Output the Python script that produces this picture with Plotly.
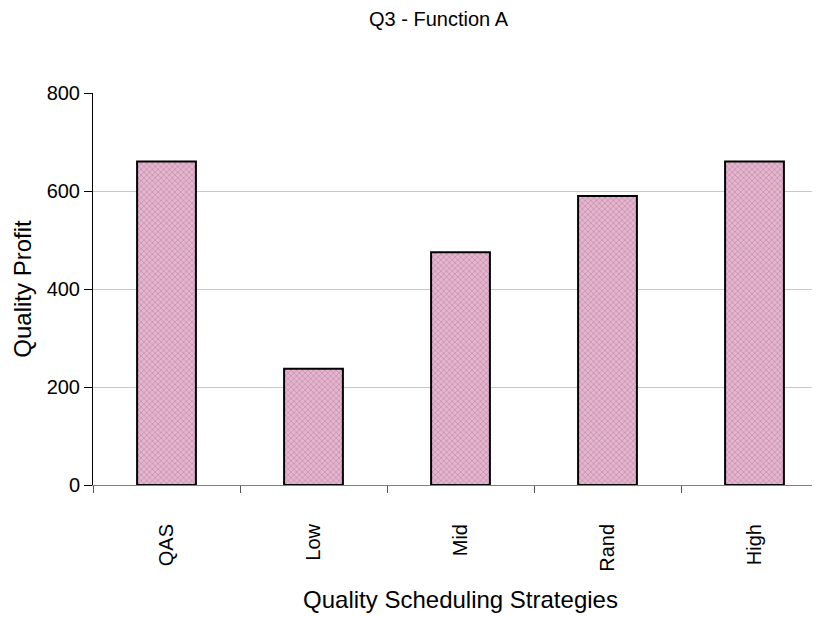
import plotly.graph_objects as go

categories = ["QAS", "Low", "Mid", "Rand", "High"]
profit = [660, 237, 475, 590, 660]
y_ticks = [0, 200, 400, 600, 800]

FONT = "Liberation Sans, Arial, sans-serif"

fig = go.Figure()
fig.add_trace(go.Bar(
    x=categories,
    y=profit,
    width=0.4,
    marker=dict(
        color="#dcaec7",
        line=dict(color="#000000", width=2),
        pattern=dict(shape="x", size=4, solidity=0.2,
                     fgcolor="#c4609a", bgcolor="#e0b8cd", fillmode="replace"),
    ),
    showlegend=False,
))

fig.update_layout(
    width=820, height=617,
    margin=dict(l=85, r=0, t=85, b=140),
    paper_bgcolor="white", plot_bgcolor="white",
    font=dict(family=FONT, color="#000000"),
    title=dict(text="Q3 - Function A", x=0.525, xanchor="center", y=0.993, yanchor="top",
               pad=dict(t=0, b=0),
               font=dict(size=20, family=FONT, color="#000000")),
    bargap=0.6,
)

fig.update_xaxes(
    type="category",
    tickson="boundaries",
    ticks="outside", ticklen=7, tickcolor="#555555", tickwidth=1,
    showline=True, linecolor="#808080", linewidth=1,
    showgrid=False,
    tickangle=-90,
    tickfont=dict(size=20, family=FONT, color="#000000"),
    ticklabelstandoff=30,
    title=dict(text="Quality Scheduling Strategies", standoff=20,
               font=dict(size=24, family=FONT, color="#000000")),
)

fig.update_yaxes(
    range=[0, 800],
    tickvals=y_ticks,
    ticks="outside", ticklen=8, tickcolor="#000000", tickwidth=1,
    showline=True, linecolor="#000000", linewidth=1,
    showgrid=True, gridcolor="#c8c8c8", gridwidth=1,
    zeroline=False,
    tickfont=dict(size=20, family=FONT, color="#000000"),
    title=dict(text="Quality Profit", standoff=8,
               font=dict(size=24, family=FONT, color="#000000")),
)

fig.write_html("out.html")
